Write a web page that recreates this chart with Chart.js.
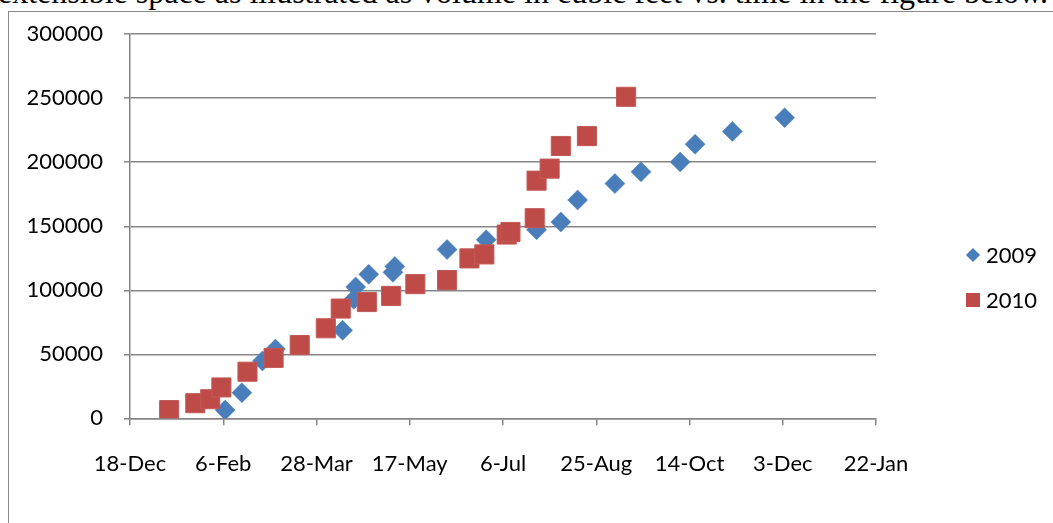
<!DOCTYPE html>
<html>
<head>
<meta charset="utf-8">
<script src="https://cdn.jsdelivr.net/npm/chart.js@4.4.1/dist/chart.umd.min.js"></script>
<style>
    body { margin: 0; background: #fff; }
    .pagina { position: relative; width: 1053px; height: 523px; overflow: hidden; background: #fff; }
    .texto-topo {
        position: absolute; left: -2px; top: -25px; white-space: nowrap; line-height: 1.107;
        font-family: "Liberation Serif", "Times New Roman", serif; font-size: 32px; color: #000;
    }
    .moldura { position: absolute; left: 8px; top: 11px; right: -10px; bottom: -10px; border: 1px solid #8a8a8a; }
    .grafico { position: absolute; left: 0; top: 0; width: 1053px; height: 523px; }
    .legenda { position: absolute; left: 962px; top: 232px; font-family: Lato, "Open Sans", sans-serif; font-size: 22px; color: #000; }
    .item { display: flex; align-items: center; height: 45px; }
    .marca { width: 22px; display: flex; justify-content: center; margin-right: 2px; }
    .losango { width: 10px; height: 10px; background: #4a7ebb; transform: rotate(45deg); }
    .quadrado { width: 14px; height: 14px; background: #be4b48; }
</style>
</head>
<body>
<div class="pagina">
    <div class="texto-topo">extensible space as illustrated as volume in cubic feet vs. time in the figure below.</div>
    <div class="moldura"></div>
    <div class="grafico"><canvas id="chartVolume"></canvas></div>
    <div class="legenda">
        <div class="item"><span class="marca"><span class="losango"></span></span>2009</div>
        <div class="item"><span class="marca"><span class="quadrado"></span></span>2010</div>
    </div>
</div>
<script>
// dias contados a partir de 18-Dec (eixo de 50 em 50 dias)
const rotulosX = ['18-Dec', '6-Feb', '28-Mar', '17-May', '6-Jul', '25-Aug', '14-Oct', '3-Dec', '22-Jan'];

const dias2009 = [51, 60, 71, 78, 114, 120, 121, 128, 141, 142, 170, 191, 218, 231, 240, 260, 274, 295, 303, 323, 351];
const volume2009 = [6400, 20000, 44800, 54100, 68700, 93000, 102600, 112500, 114000, 118600, 131800, 139500, 147200, 153300, 170500, 183300, 192500, 200200, 214100, 224100, 234800];

const dias2010 = [21, 35, 43, 49, 63, 77, 91, 105, 113, 127, 140, 153, 170, 182, 190, 202, 204, 217, 218, 225, 231, 245, 266];
const volume2010 = [6400, 11800, 14900, 24100, 36400, 47200, 57200, 70300, 85700, 90800, 95600, 104800, 108000, 124900, 128000, 143500, 145500, 156300, 185600, 195000, 212700, 220400, 251100];

const pontos = (xs, ys) => xs.map((x, i) => ({ x: x, y: ys[i] }));
const cinza = 'rgb(134,134,134)';
const fonteEixo = { family: 'Lato, "Open Sans", sans-serif', size: 22 };

new Chart(document.getElementById('chartVolume'), {
    type: 'scatter',
    data: {
        datasets: [{
            label: '2009',
            data: pontos(dias2009, volume2009),
            pointStyle: 'rectRot',
            pointRadius: 10,
            backgroundColor: '#4a7ebb',
            borderColor: '#4a7ebb',
            borderWidth: 0.5,
            order: 1
        }, {
            label: '2010',
            data: pontos(dias2010, volume2010),
            pointStyle: 'rect',
            pointRadius: 13.5,
            backgroundColor: '#be4b48',
            borderColor: '#c25a57',
            borderWidth: 1,
            order: 0
        }]
    },
    options: {
        responsive: true,
        maintainAspectRatio: false,
        animation: false,
        layout: { padding: { left: 0, top: 27, right: 177, bottom: 0 } },
        plugins: {
            legend: { display: false },
            tooltip: { enabled: false }
        },
        scales: {
            x: {
                type: 'linear',
                min: 0,
                max: 400,
                afterFit: (eixo) => { eixo.height = 104.7; },
                afterBuildTicks: (eixo) => { eixo.ticks = rotulosX.map((_, i) => ({ value: i * 50 })); },
                border: { color: cinza, width: 1.5 },
                grid: { drawOnChartArea: false, drawTicks: true, tickLength: 7, color: cinza, lineWidth: 1.5 },
                ticks: {
                    padding: 25,
                    maxRotation: 0,
                    color: '#000',
                    font: fonteEixo,
                    callback: (valor) => rotulosX[Math.round(valor / 50)]
                }
            },
            y: {
                min: 0,
                max: 300000,
                afterFit: (eixo) => { eixo.width = 130; },
                border: { color: cinza, width: 1.5 },
                grid: { color: cinza, lineWidth: 1.5, tickLength: 6 },
                ticks: { stepSize: 50000, padding: 21, color: '#000', font: fonteEixo, callback: (valor) => String(valor) }
            }
        }
    }
});
</script>
</body>
</html>
